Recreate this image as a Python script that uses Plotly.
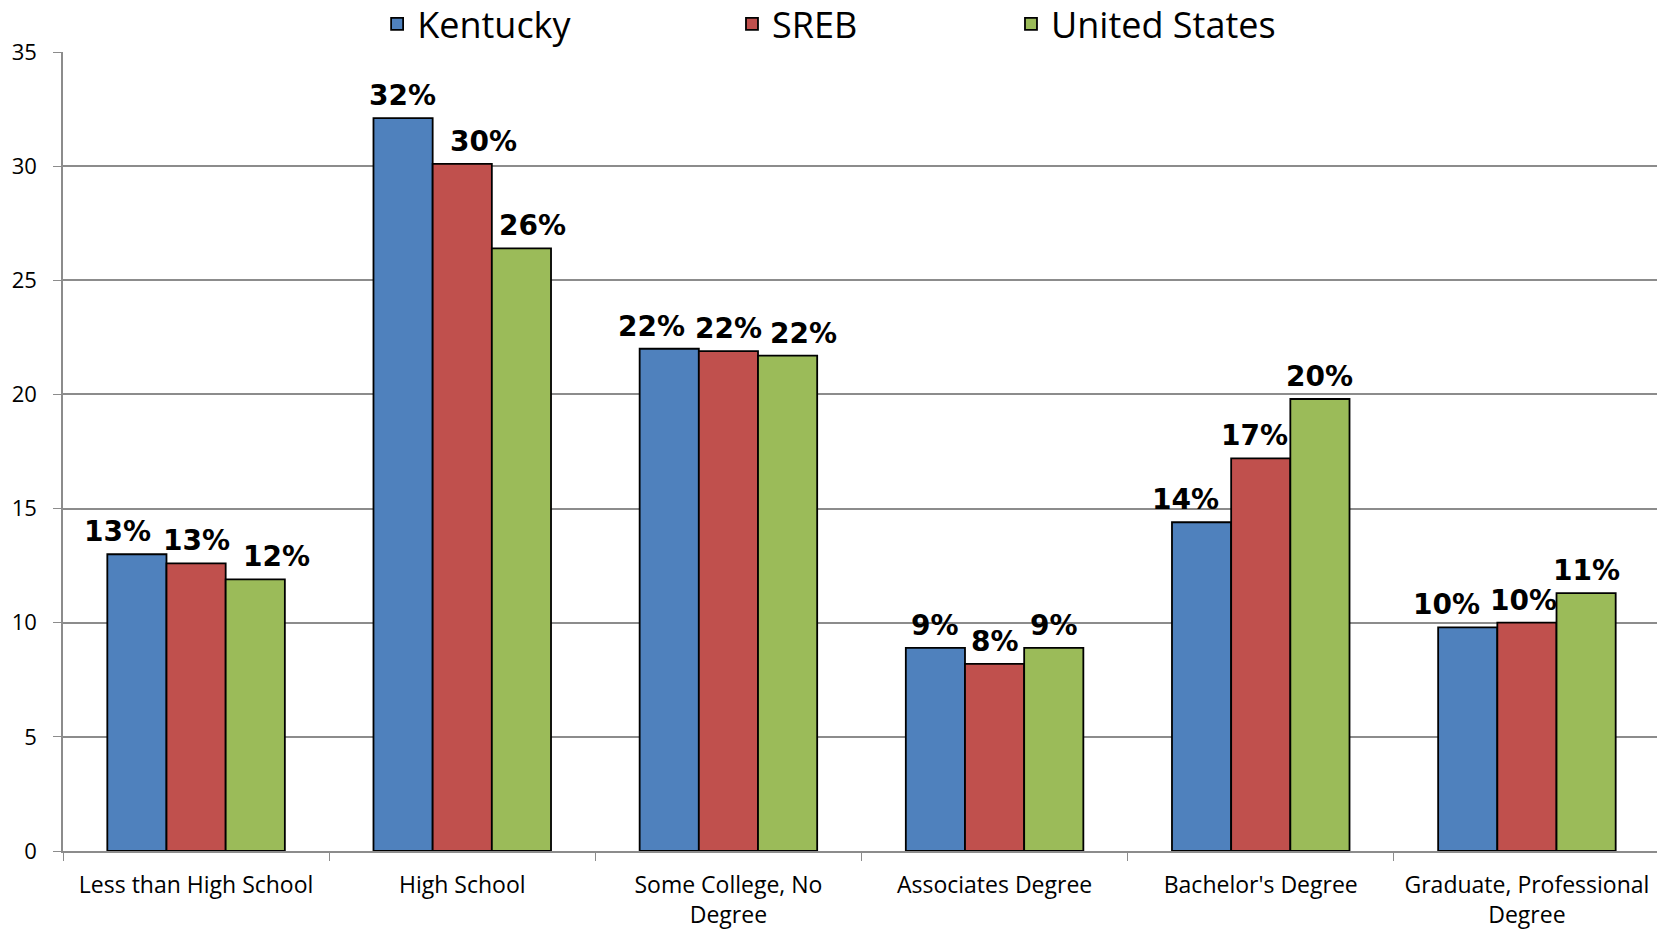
import plotly.graph_objects as go

categories = ["Less than High School", "High School", "Some College, No<br>Degree",
              "Associates Degree", "Bachelor's Degree", "Graduate, Professional<br>Degree"]
kentucky = [13.0, 32.1, 22.0, 8.9, 14.4, 9.8]
sreb = [12.6, 30.1, 21.9, 8.2, 17.2, 10.0]
united_states = [11.9, 26.4, 21.7, 8.9, 19.8, 11.3]
y_ticks = [0, 5, 10, 15, 20, 25, 30, 35]

# label placement tweaks (pixels, horizontal) as hand-placed in the original chart
label_nudge = [
    [-19, -1, -18, 0, -16, -21],
    [0, 21, 0, 0, -6, -3],
    [21, 11, 16, 0, 0, 0],
]

series = [("Kentucky", kentucky, "#4F81BD", "legend"),
          ("SREB", sreb, "#C0504D", "legend2"),
          ("United States", united_states, "#9BBB59", "legend3")]

# the page body has an 8px margin, so the figure is sized to fit the 1665x932 window
W, H = 1657, 924
M = dict(l=55, r=5, t=44, b=81)
BARGAP = 0.333
plot_w = W - M["l"] - M["r"]
bar_px = plot_w / len(categories) * (1 - BARGAP) / len(series)

fig = go.Figure()
annotations = []
for i, (name, vals, color, leg) in enumerate(series):
    fig.add_trace(go.Bar(
        name=name, x=categories, y=vals,
        marker=dict(color=color, line=dict(color="black", width=1.8)),
        legend=leg, showlegend=True,
    ))
    for j, (cat, v) in enumerate(zip(categories, vals)):
        annotations.append(dict(
            x=cat, y=v, xref="x", yref="y", text=f"{round(v)}%", showarrow=False,
            xanchor="center", yanchor="bottom",
            xshift=(i - 1) * bar_px + label_nudge[i][j], yshift=4,
            font=dict(family="DejaVu Sans", size=28, color="black", weight="bold"),
        ))

leg_common = dict(orientation="h", yanchor="middle", y=1.035, xanchor="left",
                  font=dict(family="Open Sans", size=36, color="black"),
                  bgcolor="rgba(0,0,0,0)")
fig.update_layout(
    width=W, height=H,
    margin=dict(**M, autoexpand=False),
    showlegend=True,
    plot_bgcolor="white", paper_bgcolor="white",
    barmode="group", bargap=BARGAP, bargroupgap=0,
    annotations=annotations,
    legend=dict(x=0.1967, **leg_common),
    legend2=dict(x=0.4189, **leg_common),
    legend3=dict(x=0.5936, **leg_common),
    xaxis=dict(showline=True, linecolor="#8C8C8C", linewidth=1.5,
               ticks="outside", tickson="boundaries", ticklen=8, tickcolor="#8C8C8C",
               tickwidth=1.2, ticklabelstandoff=13,
               tickfont=dict(family="Open Sans", size=23, color="black")),
    yaxis=dict(range=[0, 35], tickvals=y_ticks, showline=True, linecolor="#8C8C8C",
               linewidth=1.5, ticks="outside", ticklen=8, tickcolor="#8C8C8C", tickwidth=1.2,
               showgrid=True, gridcolor="#8C8C8C", gridwidth=1.5, zeroline=False,
               ticklabelstandoff=12,
               tickfont=dict(family="Open Sans", size=22, color="black")),
)
fig.write_html("out.html")
